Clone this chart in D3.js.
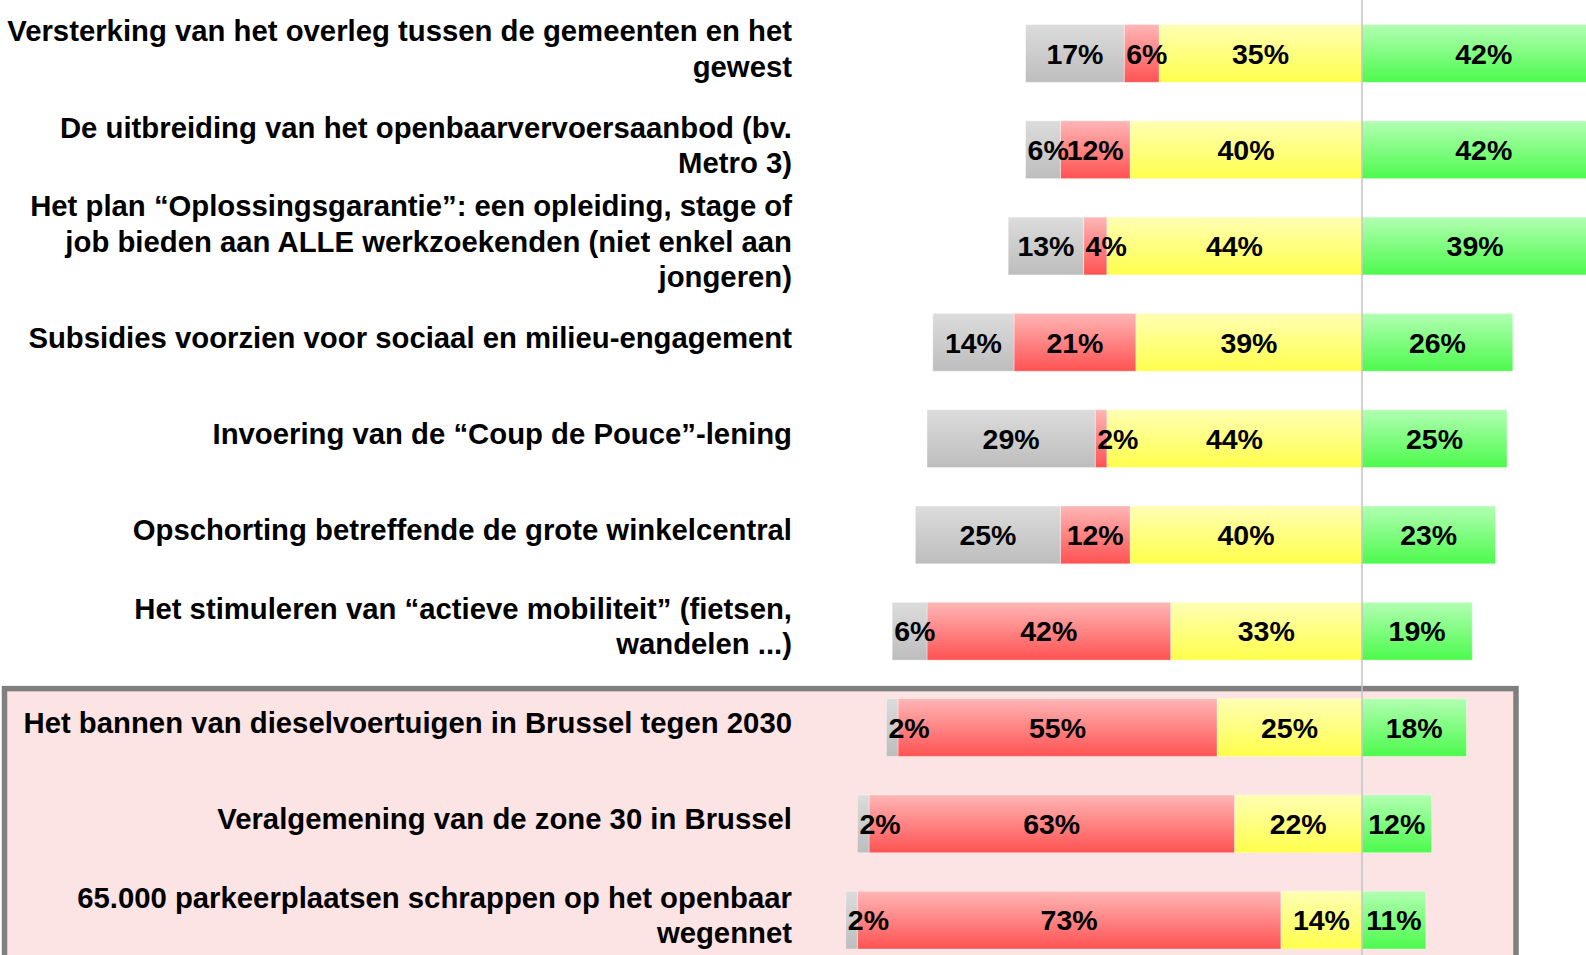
<!DOCTYPE html>
<html>
<head>
<meta charset="utf-8">
<script src="https://cdn.jsdelivr.net/npm/d3@7"></script>
<style>
body { margin: 0; background: #ffffff; }
svg { display: block; font-family: "Liberation Sans", Arial, sans-serif; }
</style>
</head>
<body>
<svg></svg>
<script>
// category labels, already split into lines as in the picture
const labelLines = [
    ["Versterking van het overleg tussen de gemeenten en het", "gewest"],
    ["De uitbreiding van het openbaarvervoersaanbod (bv.", "Metro 3)"],
    ["Het plan \u201cOplossingsgarantie\u201d: een opleiding, stage of", "job bieden aan ALLE werkzoekenden (niet enkel aan", "jongeren)"],
    ["Subsidies voorzien voor sociaal en milieu-engagement"],
    ["Invoering van de \u201cCoup de Pouce\u201d-lening"],
    ["Opschorting betreffende de grote winkelcentral"],
    ["Het stimuleren van \u201cactieve mobiliteit\u201d (fietsen,", "wandelen ...)"],
    ["Het bannen van dieselvoertuigen in Brussel tegen 2030"],
    ["Veralgemening van de zone 30 in Brussel"],
    ["65.000 parkeerplaatsen schrappen op het openbaar", "wegennet"]
];

// percentages per answer
const noOpinion = [17, 6, 13, 14, 29, 25, 6, 2, 2, 2];
const against   = [6, 12, 4, 21, 2, 12, 42, 55, 63, 73];
const ratherFor = [35, 40, 44, 39, 44, 40, 33, 25, 22, 14];
const forIt     = [42, 42, 39, 26, 25, 23, 19, 18, 12, 11];

// rows inside the pink frame
const highlightedRows = [7, 8, 9];

const width = 1586, height = 955;
const centerX = 1362;
const pxPerPct = 5.8;
const labelRight = 792;
const lineHeight = 35.4;

let svg = d3.select("svg")
    .attr("width", width)
    .attr("height", height);

// colour gradients (light on top, saturated at the bottom)
const gradients = {
    noOpinion: ["#dcdcdc", "#bdbdbd"],
    against:   ["#ffb6b6", "#ff5252"],
    ratherFor: ["#ffffb4", "#ffff4c"],
    forIt:     ["#b2ffb2", "#4dfa4d"]
};

let defs = svg.append("defs");
Object.keys(gradients).forEach(key => {
    let lg = defs.append("linearGradient")
        .attr("id", "grad-" + key)
        .attr("x1", 0).attr("y1", 0)
        .attr("x2", 0).attr("y2", 1);
    lg.append("stop").attr("offset", 0).attr("stop-color", gradients[key][0]);
    lg.append("stop").attr("offset", 1).attr("stop-color", gradients[key][1]);
});

// table for the diverging stack: left side negative, right side positive
let table = labelLines.map((l, i) => ({
    row: i,
    ratherFor: -ratherFor[i],
    against: -against[i],
    noOpinion: -noOpinion[i],
    forIt: forIt[i]
}));

let stack = d3.stack()
    .keys(["ratherFor", "against", "noOpinion", "forIt"])
    .offset(d3.stackOffsetDiverging);
let series = stack(table);

let x = d3.scaleLinear()
    .domain([-100, 100])
    .range([centerX - 100 * pxPerPct, centerX + 100 * pxPerPct]);

let y = d3.scaleBand()
    .domain(d3.range(labelLines.length))
    .range([5.25, 968.25])
    .paddingInner(0.4)
    .paddingOuter(0.2);

// pink frame around the last rows
let firstHi = d3.min(highlightedRows);
svg.append("rect")
    .attr("x", 4.5)
    .attr("y", y(firstHi) - 10)
    .attr("width", 1511.5)
    .attr("height", height)
    .attr("fill", "#fde4e4")
    .attr("stroke", "#7f7f7f")
    .attr("stroke-width", 5.5);

// bars
let layers = svg.append("g")
    .selectAll("g")
    .data(series)
    .enter()
    .append("g")
    .attr("fill", d => "url(#grad-" + d.key + ")");

layers.selectAll("rect")
    .data(d => d)
    .enter()
    .append("rect")
    .attr("x", d => x(d[0]))
    .attr("y", d => y(d.data.row))
    .attr("width", d => x(d[1]) - x(d[0]))
    .attr("height", y.bandwidth())
    .attr("stroke", "rgba(255,255,255,0.35)")
    .attr("stroke-width", 1);

// value labels; when the text is wider than its segment it starts at the segment edge
layers.each(function(s) {
    d3.select(this).selectAll("text")
        .data(s)
        .enter()
        .append("text")
        .attr("font-size", 28.5)
        .attr("font-weight", "bold")
        .attr("fill", "#000")
        .attr("y", d => y(d.data.row) + y.bandwidth() / 2)
        .attr("dy", "0.36em")
        .text(d => Math.abs(d[1] - d[0]) + "%")
        .each(function(d) {
            let x0 = x(d[0]), x1 = x(d[1]);
            let w = this.getComputedTextLength();
            if (w > x1 - x0 - 2) {
                d3.select(this).attr("x", x0 + 2).attr("text-anchor", "start");
            } else {
                d3.select(this).attr("x", (x0 + x1) / 2).attr("text-anchor", "middle");
            }
        });
});

// centre line between "rather for" and "for"
svg.append("line")
    .attr("x1", x(0)).attr("x2", x(0))
    .attr("y1", 0).attr("y2", height)
    .attr("stroke", "#c3c3c3")
    .attr("stroke-width", 1.5);

// category labels
let labelGroup = svg.append("g")
    .attr("font-size", 29.3)
    .attr("font-weight", "bold")
    .attr("text-anchor", "end")
    .attr("fill", "#000");

labelLines.forEach((lines, i) => {
    let mid = y(i) + y.bandwidth() / 2 - 5;
    let top = mid - (lines.length - 1) * lineHeight / 2;
    let t = labelGroup.append("text");
    lines.forEach((line, k) => {
        t.append("tspan")
            .attr("x", labelRight)
            .attr("y", top + k * lineHeight)
            .attr("dy", "0.36em")
            .text(line);
    });
});
</script>
</body>
</html>
